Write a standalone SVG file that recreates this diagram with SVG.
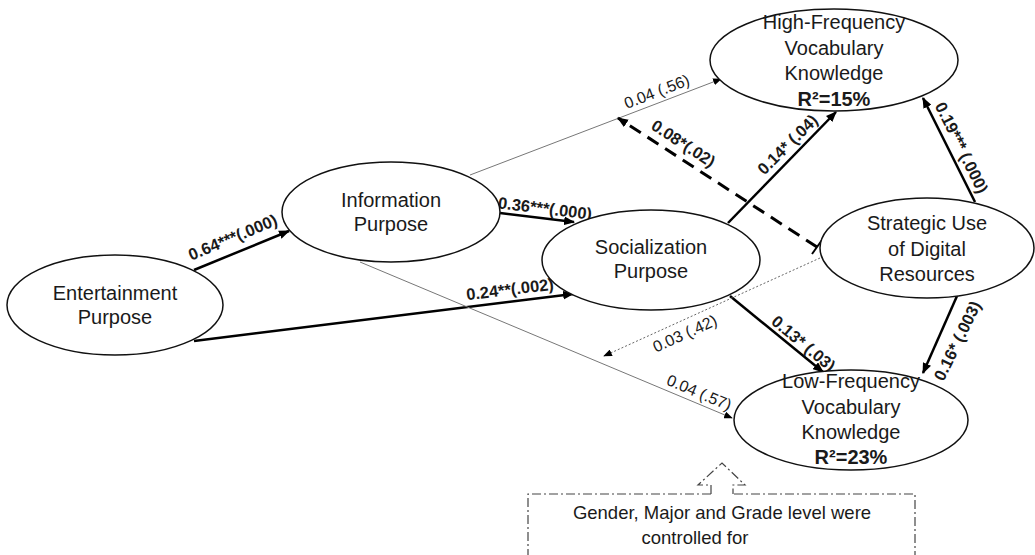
<svg xmlns="http://www.w3.org/2000/svg" width="1035" height="555" viewBox="0 0 1035 555">
<defs>
<style>
.node ellipse{fill:#fff;stroke:#111;stroke-width:1.5}
.nt{font-family:"Liberation Sans",Arial,sans-serif;font-size:20px;fill:#1a1a1a;text-anchor:middle}
.nb{font-weight:bold}
.thick{stroke:#000;stroke-width:2.5;fill:none}
.thin{stroke:#777;stroke-width:1;fill:none}
.dot{stroke:#666;stroke-width:1;stroke-dasharray:2 2;fill:none}
.dash{stroke:#000;stroke-width:3;stroke-dasharray:13 8;fill:none}
.lb{font-family:"Liberation Sans",Arial,sans-serif;font-size:16.5px;font-weight:bold;fill:#1a1a1a;text-anchor:middle}
.ln{font-family:"Liberation Sans",Arial,sans-serif;font-size:16px;fill:#1a1a1a;text-anchor:middle}
.dd{stroke:#444;stroke-width:1.2;fill:none;stroke-dasharray:9 3 2 3}
</style>
<marker id="ah" viewBox="0 0 10 8" refX="9" refY="4" markerWidth="11" markerHeight="9" orient="auto" markerUnits="userSpaceOnUse"><path d="M0,0 L10,4 L0,8 z" fill="#000"/></marker>
<marker id="ahs" viewBox="0 0 10 8" refX="9" refY="4" markerWidth="9" markerHeight="7" orient="auto" markerUnits="userSpaceOnUse"><path d="M0,0 L10,4 L0,8 z" fill="#000"/></marker>
</defs>
<rect width="1035" height="555" fill="#fff"/>
<g id="connectors">
<line class="thick" x1="194" y1="270" x2="289" y2="231" marker-end="url(#ah)"/>
<line class="thick" x1="500" y1="213" x2="574" y2="222" marker-end="url(#ah)"/>
<line class="thick" x1="194" y1="341" x2="573" y2="294" marker-end="url(#ah)"/>
<line class="thin" x1="470" y1="175" x2="721" y2="79" marker-end="url(#ahs)"/>
<line class="dash" x1="817" y1="247" x2="618" y2="118" marker-end="url(#ah)"/>
<line x1="812" y1="254" x2="822" y2="240" stroke="#000" stroke-width="2"/>
<line class="thick" x1="728" y1="223" x2="836" y2="112" marker-end="url(#ah)"/>
<line class="thick" x1="975" y1="202" x2="923" y2="98" marker-end="url(#ah)"/>
<line class="thick" x1="730" y1="296" x2="823" y2="372" marker-end="url(#ah)"/>
<line class="thick" x1="957" y1="296" x2="923" y2="373" marker-end="url(#ah)"/>
<line class="dot" x1="820" y1="258" x2="604" y2="356" marker-end="url(#ahs)"/>
<line class="thin" x1="360" y1="262" x2="732" y2="418" marker-end="url(#ahs)"/>
<text class="lb" transform="translate(233,238) rotate(-22.6)" y="5">0.64***(.000)</text>
<text class="lb" transform="translate(545,209) rotate(7)" y="5">0.36***(.000)</text>
<text class="lb" transform="translate(510,290) rotate(-7)" y="5">0.24**(.002)</text>
<text class="ln" transform="translate(657,92) rotate(-21)" y="5">0.04 (.56)</text>
<text class="lb" transform="translate(683,144) rotate(33)" y="5">0.08*(.02)</text>
<text class="lb" transform="translate(788,145) rotate(-45)" y="5">0.14* (.04)</text>
<text class="lb" transform="translate(961,148) rotate(63.7)" y="5">0.19*** (.000)</text>
<text class="lb" transform="translate(803,344) rotate(39.6)" y="5">0.13* (.03)</text>
<text class="lb" transform="translate(958,341) rotate(-64)" y="5">0.16* (.003)</text>
<text class="ln" transform="translate(685,334) rotate(-24.5)" y="5">0.03 (.42)</text>
<text class="ln" transform="translate(699,393) rotate(22.8)" y="5">0.04 (.57)</text>
</g>
<g id="entertainment" class="node">
<ellipse cx="115" cy="305" rx="108" ry="50"/>
<text class="nt" x="115" y="300">Entertainment</text>
<text class="nt" x="115" y="324">Purpose</text>
</g>
<g id="information" class="node">
<ellipse cx="391" cy="212" rx="109" ry="50"/>
<text class="nt" x="391" y="207">Information</text>
<text class="nt" x="391" y="231">Purpose</text>
</g>
<g id="socialization" class="node">
<ellipse cx="651" cy="260" rx="109" ry="50"/>
<text class="nt" x="651" y="254">Socialization</text>
<text class="nt" x="651" y="278">Purpose</text>
</g>
<g id="highfreq" class="node">
<ellipse cx="834" cy="60" rx="124" ry="51"/>
<text class="nt" x="834" y="29">High-Frequency</text>
<text class="nt" x="834" y="55">Vocabulary</text>
<text class="nt" x="834" y="80">Knowledge</text>
<text class="nt nb" x="834" y="106">R²=15%</text>
</g>
<g id="strategic" class="node">
<ellipse cx="927" cy="248" rx="107" ry="50"/>
<text class="nt" x="927" y="230">Strategic Use</text>
<text class="nt" x="927" y="256">of Digital</text>
<text class="nt" x="927" y="281">Resources</text>
</g>
<g id="lowfreq" class="node">
<ellipse cx="851" cy="420" rx="117" ry="50"/>
<text class="nt" x="851" y="388">Low-Frequency</text>
<text class="nt" x="851" y="414">Vocabulary</text>
<text class="nt" x="851" y="439">Knowledge</text>
<text class="nt nb" x="851" y="464">R²=23%</text>
</g>
<g id="controls">
<path class="dd" d="M711,494 L528,494 L528,560 M915,560 L915,494 L733,494"/>
<path class="dd" d="M711,494 L711,485 L698,485 L722,463 L745,485 L733,485 L733,494"/>
<text class="nt" x="722" y="519" style="font-size:18.5px">Gender, Major and Grade level were</text>
<text class="nt" x="695" y="544" style="font-size:18.5px">controlled for</text>
</g>
</svg>
